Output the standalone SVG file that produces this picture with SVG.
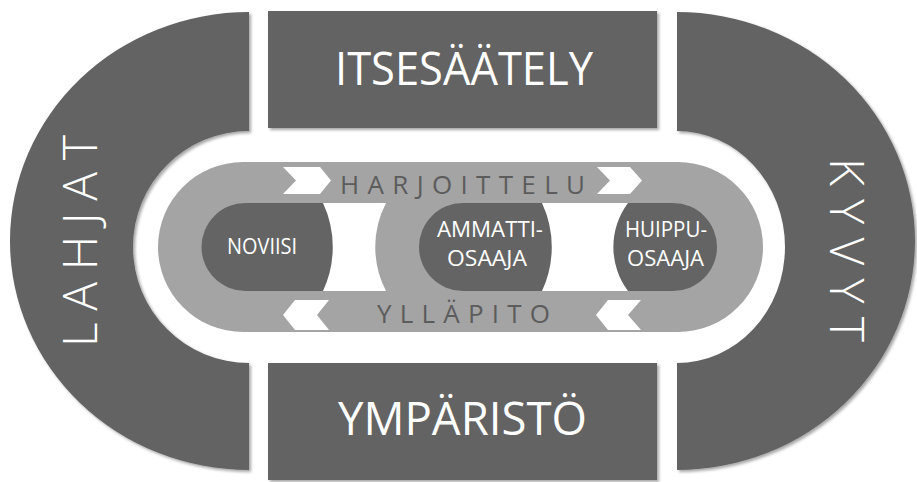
<svg xmlns="http://www.w3.org/2000/svg" width="917" height="482" viewBox="0 0 917 482">
  <defs>
    <filter id="sh" x="-5%" y="-5%" width="112%" height="112%">
      <feDropShadow dx="2" dy="2" stdDeviation="1.8" flood-color="#000" flood-opacity="0.35"/>
    </filter>
    <style>
      .dark { fill: #646464; }
      .track { fill: #a4a4a4; }
      .white { fill: #ffffff; }
      .big { font-family: "Open Sans", "Liberation Sans", sans-serif; fill: #ffffff; font-size: 46px; }
      .side { font-family: "Open Sans", "Liberation Sans", sans-serif; fill: #ffffff; font-size: 48px; font-weight: 300; }
      .trk { font-family: "Open Sans", "Liberation Sans", sans-serif; fill: #5c5c5c; font-size: 26px; }
      .pill { font-family: "Open Sans", "Liberation Sans", sans-serif; fill: #ffffff; font-size: 21px; }
    </style>
  </defs>
  <rect width="917" height="482" fill="#ffffff"/>

  <g id="lahjat">
    <path class="dark" filter="url(#sh)" d="M249,12 A239,229 0 0 0 249,470 L249,363 A116,116 0 0 1 249,131 Z"/>
    <text class="side" transform="translate(97,241) rotate(-90)" x="-106" y="0" textLength="212" lengthAdjust="spacing">LAHJAT</text>
  </g>

  <g id="kyvyt">
    <path class="dark" filter="url(#sh)" d="M677,12 A238,229 0 0 1 677,470 L677,363 A108,116 0 0 0 677,131 Z"/>
    <text class="side" transform="translate(830,250) rotate(90)" x="-92" y="0" textLength="184" lengthAdjust="spacing">KYVYT</text>
  </g>

  <g id="itsesaately">
    <rect class="dark" filter="url(#sh)" x="268" y="11" width="389" height="117"/>
    <text class="big" x="335" y="85" textLength="258" lengthAdjust="spacingAndGlyphs">ITSESÄÄTELY</text>
  </g>

  <g id="ymparisto">
    <rect class="dark" filter="url(#sh)" x="268" y="363" width="389" height="117"/>
    <text class="big" x="338" y="435" textLength="249" lengthAdjust="spacingAndGlyphs">YMPÄRISTÖ</text>
  </g>

  <g id="track">
    <rect class="track" x="158" y="162" width="605" height="170" rx="85" ry="85"/>
    <text class="trk" x="340" y="194" textLength="245" lengthAdjust="spacing">HARJOITTELU</text>
    <text class="trk" x="377" y="323" textLength="173" lengthAdjust="spacing">YLLÄPITO</text>
  </g>

  <g id="noviisi">
    <path class="dark" d="M245.5,203 H350 V291 H245.5 A44,44 0 0 1 245.5,203 Z"/>
    <text class="pill" x="227" y="254" textLength="70" lengthAdjust="spacingAndGlyphs">NOVIISI</text>
  </g>

  <g id="ammattiosaaja">
    <path class="dark" d="M463,203 H570 V291 H463 A44,44 0 0 1 463,203 Z"/>
    <text class="pill" x="437" y="237" textLength="106" lengthAdjust="spacingAndGlyphs">AMMATTI-</text>
    <text class="pill" x="447" y="266" textLength="80" lengthAdjust="spacingAndGlyphs">OSAAJA</text>
  </g>

  <g id="huippuosaaja">
    <path class="dark" d="M600,203 H673 A44,44 0 0 1 673,291 H600 Z"/>
    <text class="pill" x="625" y="237" textLength="82" lengthAdjust="spacingAndGlyphs">HUIPPU-</text>
    <text class="pill" x="627" y="266" textLength="77" lengthAdjust="spacingAndGlyphs">OSAAJA</text>
  </g>

  <g id="separators">
    <path class="white" d="M323,203 H386 A95.5,95.5 0 0 0 386,291 H323 A104,104 0 0 0 323,203 Z"/>
    <path class="white" d="M542,203 H628 A73.5,73.5 0 0 0 628,291 H542 A104,104 0 0 0 542,203 Z"/>
  </g>

  <g id="connectors">
    <polygon class="white" points="283,167 320,167 331,180.5 320,194 283,194 296,180.5"/>
    <polygon class="white" points="597,167 630,167 642,180.5 630,194 597,194 610,180.5"/>
    <polygon class="white" points="283,315 295,300 329,300 317,315 329,330 295,330"/>
    <polygon class="white" points="596,315 608,300 641,300 628,315 641,330 608,330"/>
  </g>
</svg>
